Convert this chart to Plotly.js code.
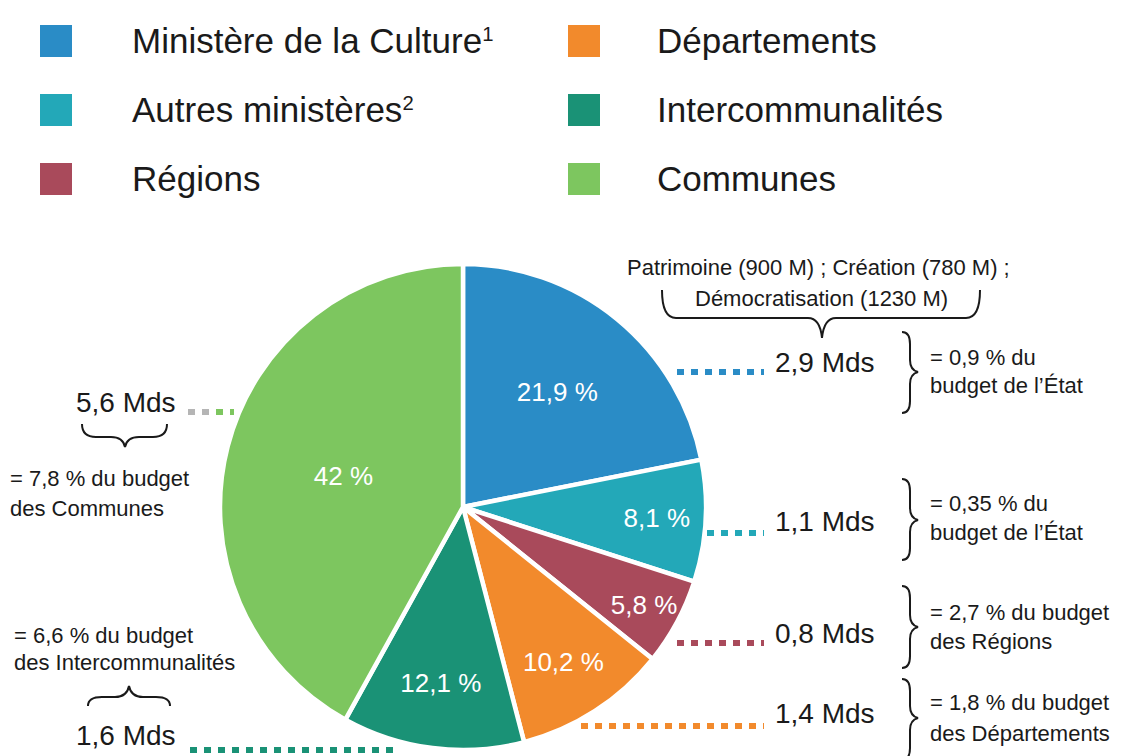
<!DOCTYPE html>
<html><head><meta charset="utf-8">
<script src="https://cdn.plot.ly/plotly-3.0.1.min.js"></script>
<style>html,body{margin:0;padding:0;background:#fff}#chart{width:1140px;height:756px}</style>
</head><body><div id="chart"></div>
<script>
// ---- data ----
const categories = ["Ministère de la Culture", "Autres ministères", "Régions", "Départements", "Intercommunalités", "Communes"];
const legendNotes = ["1", "2", "", "", "", ""];
const shares = [21.9, 8.1, 5.8, 10.2, 12.1, 42];
const shareLabels = ["21,9 %", "8,1 %", "5,8 %", "10,2 %", "12,1 %", "42 %"];
const amounts = ["2,9 Mds", "1,1 Mds", "0,8 Mds", "1,4 Mds", "1,6 Mds", "5,6 Mds"];
const budgetNotes = [
  ["= 0,9 % du", "budget de l’État"],
  ["= 0,35 % du", "budget de l’État"],
  ["= 2,7 % du budget", "des Régions"],
  ["= 1,8 % du budget", "des Départements"],
  ["= 6,6 % du budget", "des Intercommunalités"],
  ["= 7,8 % du budget", "des Communes"]
];
const cultureDetail = ["Patrimoine (900 M) ; Création (780 M) ;", "Démocratisation (1230 M)"];
const colors = ["#2a8cc6", "#23a8b8", "#a94a5b", "#f28a2c", "#1a9276", "#7dc65f"];

// ---- layout helpers (pixel -> paper) ----
const W = 1140, H = 756;
const px = x => x / W, py = y => 1 - y / H;
const FONT = "'Liberation Sans', Arial, sans-serif";
const INK = "#1a1a1a";

const cx = 463, cy = 507, R = 243;

const trace = {
  type: "pie",
  labels: categories,
  values: shares,
  text: shareLabels,
  textinfo: "text",
  textposition: "inside",
  insidetextorientation: "horizontal",
  textfont: {color: "#ffffff", size: 26, family: FONT},
  marker: {colors: colors, line: {color: "#ffffff", width: 4.5}},
  sort: false,
  direction: "clockwise",
  rotation: 0,
  hoverinfo: "none",
  showlegend: false,
  domain: {x: [px(cx - R), px(cx + R)], y: [py(cy + R), py(cy - R)]}
};

const annotations = [];
const shapes = [];
function txt(s, x, y, size, xanchor) {
  annotations.push({text: s, x: px(x), y: py(y), xref: "paper", yref: "paper",
    xanchor: xanchor || "left", yanchor: "middle", showarrow: false,
    font: {family: FONT, size: size, color: INK}});
}

// legend (2 columns x 3 rows)
const legCols = [40, 568], legText = [130, 655], legRows = [41, 110, 179];
for (let i = 0; i < categories.length; i++) {
  const c = Math.floor(i / 3), r = i % 3;
  shapes.push({type: "rect", xref: "paper", yref: "paper",
    x0: px(legCols[c]), x1: px(legCols[c] + 32), y0: py(legRows[r] + 16), y1: py(legRows[r] - 16),
    fillcolor: colors[i], line: {width: 0}});
  const label = categories[i] + (legendNotes[i] ? '<span style="font-size:29px"><sup>' + legendNotes[i] + '</sup></span>' : "");
  txt(label, legText[c], legRows[r] - 1, 35, "left");
}

// amounts
const amountPos = [[773, 362, "left"], [773, 521, "left"], [773, 633, "left"], [773, 713, "left"], [178, 735, "right"], [178, 402, "right"]];
amounts.forEach((a, i) => txt(a, amountPos[i][0], amountPos[i][1], 28, amountPos[i][2]));

// budget notes
const notePos = [[928, 358, 385], [928, 503, 532], [928, 612, 641], [928, 702, 733], [12, 635, 662], [8, 478, 508]];
budgetNotes.forEach((n, i) => { txt(n[0], notePos[i][0], notePos[i][1], 22); txt(n[1], notePos[i][0], notePos[i][2], 22); });

// top detail
txt(cultureDetail[0], 818, 268, 22, "center");
txt(cultureDetail[1], 821, 298, 22, "center");

// braces
function pathShape(d) {
  shapes.push({type: "path", xref: "paper", yref: "paper", path: d, line: {color: INK, width: 2}});
}
function P(x, y) { return px(x).toFixed(5) + "," + py(y).toFixed(5); }
// horizontal brace: x1..x2, ends at yEnd, bar at yBar, tip at (xt, yTip)
function hBrace(x1, x2, yEnd, yBar, xt, yTip) {
  const r = 14;
  pathShape("M" + P(x1, yEnd) + " Q" + P(x1, yBar) + " " + P(x1 + r, yBar) +
    " L" + P(xt - r, yBar) + " Q" + P(xt - 2, yBar) + " " + P(xt, yTip) +
    " Q" + P(xt + 2, yBar) + " " + P(xt + r, yBar) +
    " L" + P(x2 - r, yBar) + " Q" + P(x2, yBar) + " " + P(x2, yEnd));
}
// vertical brace "}": y1..y2, ends at xEnd, bar at xBar, tip at (xTip, yt)
function vBrace(y1, y2, xEnd, xBar, xTip, yt) {
  const r = 12;
  pathShape("M" + P(xEnd, y1) + " Q" + P(xBar, y1) + " " + P(xBar, y1 + r) +
    " L" + P(xBar, yt - r) + " Q" + P(xBar, yt - 2) + " " + P(xTip, yt) +
    " Q" + P(xBar, yt + 2) + " " + P(xBar, yt + r) +
    " L" + P(xBar, y2 - r) + " Q" + P(xBar, y2) + " " + P(xEnd, y2));
}
hBrace(662, 980, 290, 318, 822, 338);
hBrace(82, 167, 424, 437, 125, 447);
hBrace(88, 170, 706, 697, 129, 686);
vBrace(332, 413, 902, 910, 918, 372);
vBrace(479, 560, 902, 910, 918, 520);
vBrace(586, 668, 902, 910, 918, 627);
vBrace(679, 760, 902, 910, 918, 718);

// dotted leaders
function leader(x0, x1, y, color) {
  shapes.push({type: "line", xref: "paper", yref: "paper", x0: px(x0), x1: px(x1), y0: py(y), y1: py(y),
    line: {color: color, width: 6, dash: "7px,7px"}});
}
leader(677, 764, 372, colors[0]);
leader(707, 764, 533, colors[1]);
leader(677, 764, 643, colors[2]);
leader(581, 764, 726, colors[3]);
leader(190, 394, 750, colors[4]);
leader(188, 216, 412, "#b5b5b5");
leader(216, 234, 412, colors[5]);

const layout = {
  width: W, height: H,
  margin: {l: 0, r: 0, t: 0, b: 0},
  paper_bgcolor: "#ffffff",
  showlegend: false,
  uniformtext: {mode: "show", minsize: 26},
  annotations: annotations,
  shapes: shapes
};
Plotly.newPlot("chart", [trace], layout, {displayModeBar: false, staticPlot: true});
</script></body></html>
